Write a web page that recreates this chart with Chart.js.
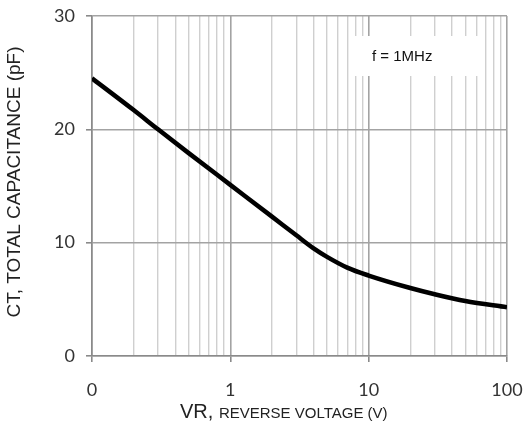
<!DOCTYPE html>
<html>
<head>
<meta charset="utf-8">
<script src="https://cdn.jsdelivr.net/npm/chart.js@4"></script>
<style>
  html, body { margin: 0; padding: 0; background: #fff; }
  #wrap { width: 528px; height: 437px; }
</style>
</head>
<body>
<div id="wrap"><canvas id="capChart" width="528" height="437"></canvas></div>
<script>
// Reverse voltage (V) and total capacitance (pF)
const vrValues = [0.1, 0.2, 0.3, 0.5, 1, 2, 3, 4, 5, 7, 10, 20, 30, 50, 100];
const ctValues = [24.5, 21.7, 20, 17.9, 15.1, 12.3, 10.65, 9.5, 8.75, 7.8, 7.1, 6.0, 5.45, 4.85, 4.3];

// Axis ticks
const xMajorTicks = [0.1, 1, 10, 100];
const xMajorLabels = ["0", "1", "10", "100"];
const xDecades = [0.1, 1, 10];
const yTicks = [0, 10, 20, 30];

const yTitle = "CT, TOTAL CAPACITANCE (pF)";
const xTitleMain = "VR, ";
const xTitleSmall = "REVERSE VOLTAGE (V)";
const noteText = "f = 1MHz";

// every log gridline: 1..9 in each decade, plus the last one
const xGridValues = [];
xDecades.forEach(d => {
  for (let k = 1; k <= 9; k++) xGridValues.push(+(k * d).toPrecision(2));
});
xGridValues.push(100);

const isMajor = v => xMajorTicks.some(m => Math.abs(m - v) < 1e-9);

// titles and the "f = 1MHz" box
const annotations = {
  id: "annotations",
  beforeDatasetsDraw(chart) {
    const { ctx, chartArea } = chart;
    ctx.save();
    // note box covers the grid
    const bx = chartArea.left + 258, by = chartArea.top + 20;
    ctx.fillStyle = "#fff";
    ctx.fillRect(bx, by, 134, 40);
    ctx.fillStyle = "#111";
    ctx.font = "15px 'Liberation Sans', Arial, sans-serif";
    ctx.textAlign = "left";
    ctx.textBaseline = "middle";
    ctx.fillText(noteText, bx + 22, by + 21);
    ctx.restore();
  },
  afterDraw(chart) {
    const { ctx, chartArea } = chart;
    ctx.save();
    ctx.fillStyle = "#222";
    // y title
    ctx.translate(15, (chartArea.top + chartArea.bottom) / 2 - 4);
    ctx.rotate(-Math.PI / 2);
    ctx.font = "19px 'Liberation Sans', Arial, sans-serif";
    ctx.textAlign = "center";
    ctx.textBaseline = "middle";
    ctx.fillText(yTitle, 0, 0);
    ctx.restore();

    // x title: mixed sizes
    ctx.save();
    ctx.fillStyle = "#222";
    ctx.textBaseline = "alphabetic";
    ctx.textAlign = "left";
    const bigFont = "20px 'Liberation Sans', Arial, sans-serif";
    const smallFont = "15px 'Liberation Sans', Arial, sans-serif";
    ctx.font = bigFont;
    const w1 = ctx.measureText(xTitleMain).width;
    ctx.font = smallFont;
    const w2 = ctx.measureText(xTitleSmall).width;
    const x0 = 180;
    const base = 418;
    ctx.font = bigFont;
    ctx.fillText(xTitleMain, x0, base);
    ctx.font = smallFont;
    ctx.fillText(xTitleSmall, x0 + w1, base);
    ctx.restore();
  }
};

new Chart(document.getElementById("capChart"), {
  type: "line",
  data: {
    datasets: [{
      data: vrValues.map((v, i) => ({ x: v, y: ctValues[i] })),
      borderColor: "#000",
      borderWidth: 4.5,
      pointRadius: 0,
      fill: false,
      cubicInterpolationMode: "monotone"
    }]
  },
  options: {
    responsive: false,
    animation: false,
    layout: { padding: { left: 0, right: 21, top: 16, bottom: 0 } },
    plugins: { legend: { display: false }, tooltip: { enabled: false } },
    scales: {
      x: {
        type: "logarithmic",
        min: 0.1,
        max: 100,
        afterBuildTicks: scale => {
          scale.ticks = xGridValues.map(v => ({ value: v }));
        },
        afterFit: scale => {
          scale.height = 81;
          scale.paddingLeft = 0;
          scale.paddingRight = 0;
        },
        ticks: {
          autoSkip: false,
          maxRotation: 0,
          padding: 17,
          color: "#333",
          font: { family: "Lato, sans-serif", size: 18 },
          callback: value => {
            const i = xMajorTicks.findIndex(m => Math.abs(m - value) < 1e-9);
            return i >= 0 ? xMajorLabels[i] : "";
          }
        },
        grid: {
          color: ctx => (ctx.tick && isMajor(ctx.tick.value) ? "#a3a3a3" : "#cfcfcf"),
          lineWidth: ctx => (ctx.tick && isMajor(ctx.tick.value) ? 1.6 : 1.4),
          tickLength: 6,
          tickColor: ctx => (ctx.tick && isMajor(ctx.tick.value) ? "#8a8a8a" : "rgba(0,0,0,0)")
        },
        border: { color: "#8a8a8a", width: 1.6 }
      },
      y: {
        min: 0,
        max: 30,
        afterBuildTicks: scale => {
          scale.ticks = yTicks.map(v => ({ value: v }));
        },
        afterFit: scale => {
          scale.width = 92;
          scale.paddingTop = 0;
          scale.paddingBottom = 0;
        },
        ticks: {
          padding: 11,
          color: "#333",
          font: { family: "Lato, sans-serif", size: 18 }
        },
        grid: {
          color: "#a3a3a3",
          lineWidth: 1.6,
          tickLength: 6,
          tickColor: "#8a8a8a"
        },
        border: { color: "#8a8a8a", width: 1.6 }
      }
    }
  },
  plugins: [annotations]
});
</script>
</body>
</html>
